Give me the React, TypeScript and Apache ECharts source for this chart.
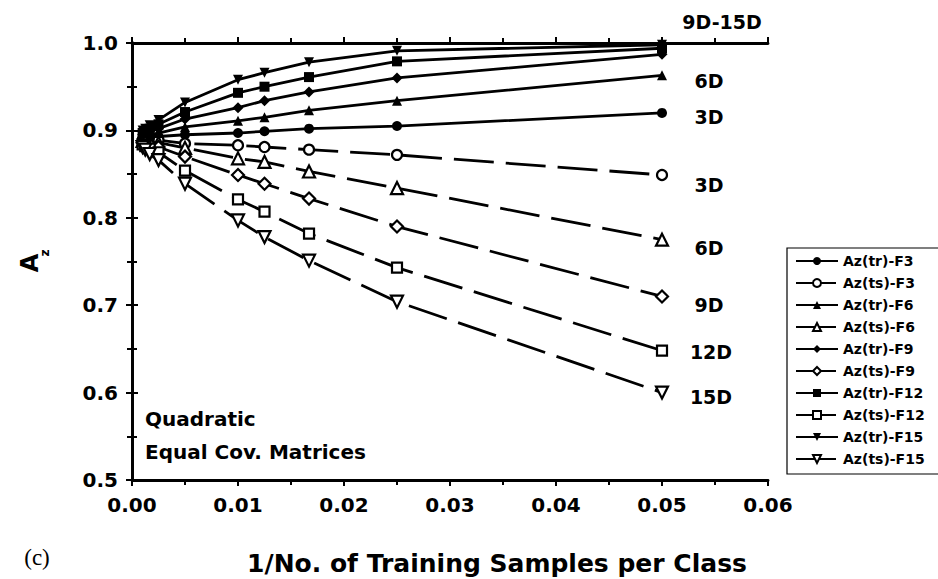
import React, { useEffect, useRef } from "react";
import * as echarts from "echarts";

const xValues = [0.001, 0.00125, 0.00167, 0.0025, 0.005, 0.01, 0.0125, 0.0167, 0.025, 0.05];

const trF3 = [0.891, 0.892, 0.892, 0.893, 0.895, 0.897, 0.899, 0.902, 0.905, 0.920];
const tsF3 = [0.889, 0.889, 0.889, 0.889, 0.885, 0.883, 0.881, 0.878, 0.872, 0.849];
const trF6 = [0.893, 0.894, 0.895, 0.897, 0.904, 0.911, 0.915, 0.923, 0.934, 0.963];
const tsF6 = [0.888, 0.888, 0.887, 0.886, 0.880, 0.868, 0.864, 0.853, 0.834, 0.775];
const trF9 = [0.895, 0.897, 0.899, 0.902, 0.913, 0.926, 0.934, 0.944, 0.960, 0.987];
const tsF9 = [0.886, 0.886, 0.884, 0.881, 0.870, 0.849, 0.839, 0.822, 0.790, 0.710];
const trF12 = [0.897, 0.899, 0.902, 0.907, 0.921, 0.943, 0.950, 0.961, 0.979, 0.994];
const tsF12 = [0.884, 0.882, 0.879, 0.875, 0.854, 0.821, 0.807, 0.782, 0.743, 0.648];
const trF15 = [0.900, 0.902, 0.906, 0.912, 0.932, 0.958, 0.966, 0.978, 0.991, 0.998];
const tsF15 = [0.881, 0.878, 0.873, 0.866, 0.839, 0.797, 0.778, 0.751, 0.704, 0.600];

const xTicks = ["0.00", "0.01", "0.02", "0.03", "0.04", "0.05", "0.06"];
const yTicks = ["0.5", "0.6", "0.7", "0.8", "0.9", "1.0"];

const FONT = "'DejaVu Sans', 'Liberation Sans', Arial, sans-serif";

export default function App() {
  const ref = useRef<HTMLDivElement>(null);
  useEffect(() => {
    if (!ref.current) return;
    const chart = echarts.init(ref.current, null, { renderer: "svg" });
    const pts = (ys: number[]) => xValues.map((x, i) => [x, ys[i]]);
    const mk = (name: string, data: number[], symbol: string, dashed: boolean, size: number, rotate = 0) => ({
      name,
      type: "line",
      data: pts(data),
      symbol,
      symbolSize: size,
      symbolRotate: rotate,
      showSymbol: true,
      xAxisIndex: 0,
      yAxisIndex: 0,
      lineStyle: { color: "#000", width: 2.8, type: dashed ? [40, 12] : "solid" },
      itemStyle: { color: dashed ? "#fff" : "#000", borderColor: "#000", borderWidth: dashed ? 2.2 : 0 },
      emphasis: { disabled: true },
    });
    const axisLine = { show: true, lineStyle: { color: "#000", width: 2.8 } };
    const tickStyle = { show: true, length: 6, lineStyle: { color: "#000", width: 2 } };
    const minorTick = { show: true, splitNumber: 2, length: 5, lineStyle: { color: "#000", width: 2 } };
    const texts: any[] = [
      ["9D-15D", 722, 22],
      ["6D", 709, 81],
      ["3D", 709, 117],
      ["3D", 709, 185],
      ["6D", 709, 248],
      ["9D", 709, 305],
      ["12D", 711, 352],
      ["15D", 711, 397],
    ].map(([t, x, y]) => ({
      type: "text",
      x,
      y,
      style: { text: t, font: `bold 19px ${FONT}`, fill: "#000", textAlign: "center", textVerticalAlign: "middle" },
    }));
    chart.setOption({
      animation: false,
      backgroundColor: "#fff",
      grid: { left: 132, right: 170, top: 43, bottom: 99, containLabel: false },
      xAxis: [
        {
          type: "value",
          min: 0,
          max: 0.06,
          interval: 0.01,
          position: "bottom",
          axisLine,
          axisTick: tickStyle,
          minorTick,
          splitLine: { show: false },
          axisLabel: {
            color: "#000",
            fontFamily: FONT,
            fontWeight: "bold",
            fontSize: 20,
            margin: 15,
            formatter: (v: number) => xTicks[Math.round(v / 0.01)] ?? "",
          },
        },
        {
          type: "value",
          min: 0,
          max: 0.06,
          interval: 0.01,
          position: "top",
          axisLine,
          axisTick: tickStyle,
          minorTick,
          splitLine: { show: false },
          axisLabel: { show: false },
        },
      ],
      yAxis: [
        {
          type: "value",
          min: 0.5,
          max: 1.0,
          interval: 0.1,
          position: "left",
          axisLine,
          axisTick: tickStyle,
          minorTick,
          splitLine: { show: false },
          axisLabel: {
            color: "#000",
            fontFamily: FONT,
            fontWeight: "bold",
            fontSize: 20,
            margin: 14,
            formatter: (v: number) => yTicks[Math.round((v - 0.5) / 0.1)] ?? "",
          },
        },
        {
          type: "value",
          min: 0.5,
          max: 1.0,
          interval: 0.1,
          position: "right",
          axisLine,
          axisTick: tickStyle,
          minorTick,
          splitLine: { show: false },
          axisLabel: { show: false },
        },
      ],
      legend: {
        orient: "vertical",
        left: 787,
        top: 248,
        itemWidth: 42,
        itemHeight: 10,
        itemGap: 8,
        padding: [6, 30, 8, 8],
        borderColor: "#000",
        borderWidth: 1.2,
        textStyle: { color: "#000", fontFamily: FONT, fontWeight: "bold", fontSize: 14, lineHeight: 14 },
        data: [
          "Az(tr)-F3",
          "Az(ts)-F3",
          "Az(tr)-F6",
          "Az(ts)-F6",
          "Az(tr)-F9",
          "Az(ts)-F9",
          "Az(tr)-F12",
          "Az(ts)-F12",
          "Az(tr)-F15",
          "Az(ts)-F15",
        ],
      },
      series: [
        mk("Az(tr)-F3", trF3, "circle", false, 10),
        mk("Az(ts)-F3", tsF3, "circle", true, 10),
        mk("Az(tr)-F6", trF6, "triangle", false, 10),
        mk("Az(ts)-F6", tsF6, "triangle", true, 12),
        mk("Az(tr)-F9", trF9, "diamond", false, 11),
        mk("Az(ts)-F9", tsF9, "diamond", true, 12),
        mk("Az(tr)-F12", trF12, "rect", false, 10),
        mk("Az(ts)-F12", tsF12, "rect", true, 10),
        mk("Az(tr)-F15", trF15, "triangle", false, 10, 180),
        mk("Az(ts)-F15", tsF15, "triangle", true, 12, 180),
      ],
      graphic: [
        ...texts,
        {
          type: "text",
          x: 497,
          y: 563,
          style: { text: "1/No. of Training Samples per Class", font: `bold 25px ${FONT}`, fill: "#000", textAlign: "center", textVerticalAlign: "middle" },
        },
        {
          type: "text",
          x: 145,
          y: 419,
          style: { text: "Quadratic", font: `bold 20px ${FONT}`, fill: "#000", textAlign: "left", textVerticalAlign: "middle" },
        },
        {
          type: "text",
          x: 145,
          y: 452,
          style: { text: "Equal Cov. Matrices", font: `bold 20px ${FONT}`, fill: "#000", textAlign: "left", textVerticalAlign: "middle" },
        },
        {
          type: "text",
          x: 30,
          y: 263,
          rotation: Math.PI / 2,
          style: { text: "A", font: `bold 24px ${FONT}`, fill: "#000", textAlign: "center", textVerticalAlign: "middle" },
        },
        {
          type: "text",
          x: 45,
          y: 253,
          rotation: Math.PI / 2,
          style: { text: "z", font: `bold 12px ${FONT}`, fill: "#000", textAlign: "center", textVerticalAlign: "middle" },
        },
        {
          type: "text",
          x: 37,
          y: 557,
          style: { text: "(c)", font: `23px "Liberation Serif", "DejaVu Serif", serif`, fill: "#000", textAlign: "center", textVerticalAlign: "middle" },
        },
      ],
    });
    return () => chart.dispose();
  }, []);
  return <div ref={ref} style={{ position: "fixed", left: 0, top: 0, width: 938, height: 579, background: "#fff" }} />;
}
